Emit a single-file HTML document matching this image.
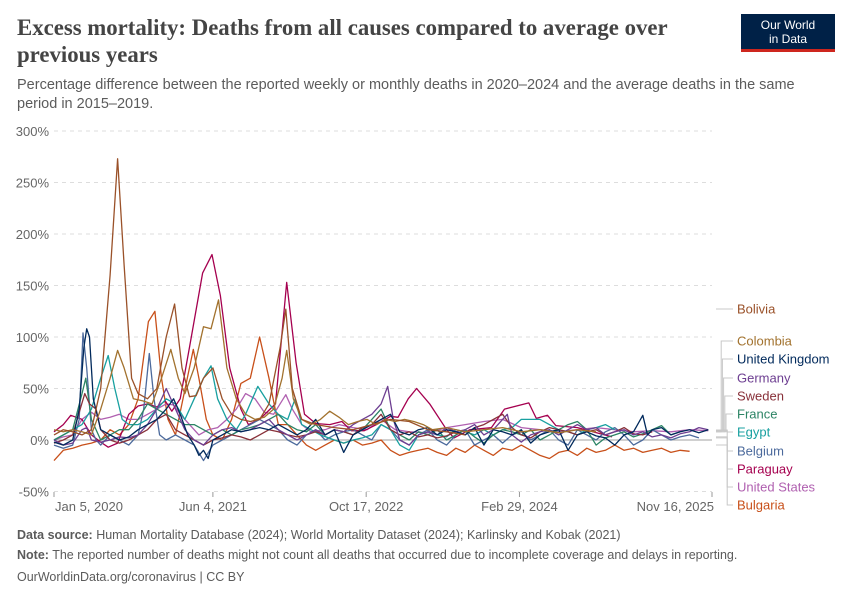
<!DOCTYPE html>
<html><head><meta charset="utf-8">
<style>
body{margin:0;background:#fff;font-family:"Liberation Sans",sans-serif;}
#wrap{position:relative;width:850px;height:600px;overflow:hidden;}
.t{position:absolute;white-space:nowrap;}
</style></head><body>
<div id="wrap">
<div class="t" style="left:17px;top:14px;font-family:'Liberation Serif',serif;font-weight:bold;font-size:22.8px;color:#444;line-height:27px;">Excess mortality: Deaths from all causes compared to average over<br>previous years</div>
<div class="t" style="left:17px;top:76px;font-size:14.5px;color:#5b5b5b;line-height:19px;">Percentage difference between the reported weekly or monthly deaths in 2020–2024 and the average deaths in the same<br>period in 2015–2019.</div>
<div style="position:absolute;left:741px;top:14px;width:94px;height:38px;background:#002147;border-bottom:3px solid #ce261e;box-sizing:border-box;color:#fff;font-size:12px;text-align:center;line-height:14px;padding-top:4px;">Our World<br>in Data</div>
<svg id="chart" width="850" height="600" style="position:absolute;left:0;top:0;"></svg>
<div class="t" style="left:17px;top:528px;font-size:12.5px;color:#5b5b5b;"><b>Data source:</b> Human Mortality Database (2024); World Mortality Dataset (2024); Karlinsky and Kobak (2021)</div>
<div class="t" style="left:17px;top:548px;font-size:12.5px;color:#5b5b5b;"><b>Note:</b> The reported number of deaths might not count all deaths that occurred due to incomplete coverage and delays in reporting.</div>
<div class="t" style="left:17px;top:570px;font-size:12.5px;color:#5b5b5b;">OurWorldinData.org/coronavirus | CC BY</div>
</div>
<script>
const yTicks=[300,250,200,150,100,50,0,-50];
const xTickLabels=["Jan 5, 2020","Jun 4, 2021","Oct 17, 2022","Feb 29, 2024","Nov 16, 2025"];
const xTickMonths=[0,17,33.4,49.8,70.4];
const countries=["Bolivia","Colombia","United Kingdom","Germany","Sweden","France","Egypt","Belgium","Paraguay","United States","Bulgaria"];
const colors=["#9a5129","#a2722e","#00295b","#6d3e91","#883039","#2c8465","#18a0a0","#4c6a9c","#a5004f","#b060b0","#c8501a"];
const bolivia=[[0,5],[1,10],[2,8],[3,5],[4,10],[5,50],[6,160],[6.8,273],[7.5,170],[8.3,60],[9,45],[10,40],[11,50],[12,100],[12.9,132],[13.7,70],[14.5,42],[15.2,43],[16,60],[17,70],[18,40],[19,25],[20,20],[21,18],[22,20],[23,35],[24.2,90],[24.8,127],[25.5,50],[26.5,20],[28,15],[30,12],[32,10],[34,15],[36,20],[38,18],[40,10],[42,8],[44,5]];
const colombia=[[0,10],[1,8],[2,10],[3,8],[4,5],[5,30],[6,60],[6.8,87],[7.5,70],[8.5,40],[9.5,38],[10.5,35],[11.5,60],[12.5,88],[13.3,60],[14,45],[15,70],[16,110],[16.8,108],[17.6,136],[18.5,70],[19.5,40],[20.5,25],[21.5,20],[22.5,22],[23.5,30],[24.4,60],[24.9,87],[25.6,40],[26.5,20],[27.5,15],[28.5,20],[29.5,28],[30.5,22],[31.5,15],[32.5,18],[33.5,20],[34.5,15],[35.5,20],[36.5,18],[37.5,20],[38.5,18],[39.5,15],[40.5,10],[42,12],[44,8],[46,10],[48,12],[50,8],[52,10],[54,7],[56,10],[58,8]];
const uk=[[0,-2],[1,-5],[2,0],[2.7,30],[3.2,90],[3.5,108],[3.8,100],[4.2,40],[4.6,25],[5,10],[6,5],[7,0],[8,3],[9,10],[10,15],[11,20],[12,30],[12.8,40],[13.5,25],[14.3,5],[15,-5],[15.5,-15],[16,-10],[16.5,-18],[17,0],[18,5],[19,10],[20,8],[21,10],[22,12],[23,10],[24,15],[25,10],[26,5],[27,10],[28,20],[29,5],[30,10],[31,-12],[32,5],[33,10],[34,15],[35,20],[36,25],[37,8],[38,5],[39,10],[40,12],[41,5],[42,10],[43,8],[44,5],[45,12],[46,-5],[47,10],[48,8],[49,5],[50,10],[51,-3],[52,5],[53,8],[54,10],[55,-10],[56,5],[57,8],[58,4],[59,2],[60,-5],[61,5],[62,8],[63,24],[63.5,5],[64,10],[65,12],[66,5],[67,8],[68,10],[69,7],[70,10]];
const germany=[[0,0],[1,-5],[2,-3],[3,10],[3.5,12],[4,0],[5,-2],[6,0],[7,3],[8,2],[9,5],[10,15],[11,30],[12,50],[13,30],[14,10],[15,0],[16,-5],[17,5],[18,10],[19,12],[20,8],[21,10],[22,15],[23,20],[24,10],[25,5],[26,0],[27,5],[28,10],[29,5],[30,10],[31,8],[32,15],[33,20],[34,25],[35,35],[35.7,52],[36.3,20],[37,0],[38,-5],[39,5],[40,8],[41,5],[42,12],[43,8],[44,10],[45,15],[46,5],[47,10],[48,20],[48.5,25],[49,5],[50,-2],[51,5],[52,8],[53,10],[54,5],[55,10],[56,15],[57,10],[58,12],[59,5],[60,8],[61,10],[62,5],[63,8],[64,3],[65,5],[66,2],[67,6],[68,8],[69,12],[70,10]];
const sweden=[[0,-3],[1,0],[2,5],[2.8,30],[3.3,45],[3.8,35],[4.5,30],[5,10],[6,0],[7,-3],[8,0],[9,5],[10,10],[11,20],[12,25],[13,10],[14,5],[15,0],[16,-5],[17,0],[18,2],[19,5],[20,3],[21,0],[22,5],[23,10],[24,8],[25,5],[26,3],[27,5],[28,8],[29,5],[30,10],[31,8],[32,5],[33,12],[34,15],[35,25],[36,10],[37,5],[38,8],[39,3],[40,5],[41,2],[42,4],[43,8],[44,5],[45,12],[46,15],[47,20],[48,25],[49,12],[50,5],[51,2],[52,8],[53,12],[54,10],[55,8],[56,5],[57,8],[58,10],[59,5],[60,8],[61,12],[62,6],[63,5],[64,8]];
const france=[[0,0],[1,5],[2,10],[3,45],[3.4,60],[4,20],[5,0],[6,5],[7,10],[8,10],[9,20],[10,35],[11,30],[12,25],[13,20],[14,15],[15,15],[16,10],[17,5],[18,10],[19,5],[20,10],[21,12],[22,15],[23,20],[24,25],[25,15],[26,10],[27,8],[28,15],[29,5],[30,10],[31,8],[32,5],[33,10],[34,20],[35,30],[36,10],[37,5],[38,0],[39,8],[40,5],[41,10],[42,0],[43,5],[44,10],[45,3],[46,-3],[47,5],[48,10],[49,8],[50,5],[51,10],[52,0],[53,5],[54,10],[55,15],[56,18],[57,10],[58,-5],[59,2],[60,5],[61,8],[62,3],[63,6],[64,10],[65,14],[66,5],[67,8]];
const egypt=[[0,0],[1,5],[2,10],[3,15],[4,30],[5,60],[5.8,82],[6.5,50],[7.3,20],[8,15],[9,15],[10,20],[11,30],[12,40],[13,35],[14,20],[15,40],[16,60],[16.8,72],[17.5,40],[18.5,20],[19.5,10],[20.5,25],[21.8,52],[23,35],[24,25],[25,20],[25.8,40],[26.5,15],[27.5,10],[28.5,5],[30,0],[31,-3],[32,0],[33,2],[34,5],[35,15],[36,10],[37,-5],[38,-10],[39,5],[40,8],[41,5],[42,3],[43,10],[44,8],[45,5],[46,10],[47,5],[48,10],[49,12],[50,20],[51,20],[52,20],[53,15],[54,10],[55,8],[56,5],[57,10],[58,12],[59,15],[60,10]];
const belgium=[[0,-5],[1,-8],[2,-5],[2.7,20],[3.1,104],[3.5,70],[4,10],[4.5,0],[5,-5],[6,5],[7,0],[8,-5],[9,5],[9.6,30],[10.2,84],[10.7,40],[11.3,5],[12,0],[13,5],[14,0],[15,-5],[16,-20],[17,-5],[18,0],[19,5],[20,10],[21,15],[22,20],[23,15],[24,10],[25,0],[26,-5],[27,5],[28,10],[29,0],[30,5],[31,8],[32,10],[33,5],[34,0],[35,15],[36,10],[37,0],[38,-5],[39,5],[40,10],[41,0],[42,-5],[43,5],[44,10],[45,-5],[46,0],[47,5],[48,-3],[49,5],[50,8],[51,0],[52,5],[53,10],[54,0],[55,-5],[56,10],[57,5],[58,0],[59,8],[60,12],[61,5],[62,-5],[63,0],[64,10],[65,5],[66,0],[67,3],[68,5],[69,2]];
const paraguay=[[0,8],[1,15],[1.8,24],[3,20],[4,5],[5,-2],[5.8,-7],[6.8,-3],[8,25],[9,33],[10,35],[11,32],[11.9,38],[12.6,28],[13.5,40],[14.5,90],[15.9,162],[16.9,180],[17.8,140],[18.8,70],[20,30],[20.8,15],[22,20],[23.7,35],[24.9,153],[25.9,75],[26.8,25],[28,16],[29.5,15],[30.8,18],[31.8,9],[33.2,9],[34.5,15],[36,23],[36.8,22],[37.9,40],[38.8,50],[40.2,35],[42,10],[42.8,2],[44.5,10],[46.8,12],[48.2,30],[50.8,36],[51.6,21],[52.8,24],[53.7,14],[56,12],[59.7,3]];
const usa=[[0,0],[1,3],[2,5],[3,20],[4,27],[5,20],[6,22],[7,25],[8,20],[9,20],[10,25],[11,30],[12,35],[12.8,34],[13.5,25],[14.5,15],[15.5,5],[16.5,10],[17.5,12],[18.5,20],[19.5,30],[20.5,45],[21.5,40],[22.5,27],[23.5,25],[24.8,44],[25.5,30],[26.5,15],[27.5,8],[29,10],[30.5,15],[32,12],[33.5,10],[35,20],[36.5,10],[38,8],[40,7],[42,12],[44,15],[46,18],[48,20],[50,12],[52,10],[54,8],[56,10],[58,12],[60,10],[62,8],[64,9],[66,8],[68,10],[70,9]];
const bulgaria=[[0,-20],[1,-10],[2,-8],[3,-5],[4,-3],[5,0],[6,10],[7,5],[8,15],[9,40],[10.1,115],[10.8,125],[11.5,60],[12.2,20],[13,5],[13.8,40],[14.9,88],[15.5,60],[16.3,20],[17,5],[18,0],[19,20],[20,55],[21,60],[22,100],[23,60],[24,15],[25,15],[26,5],[27,-5],[28,-10],[29,-5],[30,0],[31,-3],[32,0],[33,-5],[34,-3],[35,0],[36,-10],[37,-15],[38,-12],[39,-10],[40,-8],[41,-12],[42,-15],[43,-8],[44,-12],[45,-5],[46,-10],[47,-15],[48,-8],[49,-10],[50,-5],[51,-10],[52,-15],[53,-18],[54,-12],[55,-10],[56,-15],[57,-8],[58,-12],[59,-10],[60,-5],[61,-10],[62,-8],[63,-12],[64,-10],[65,-8],[66,-12],[67,-10],[68,-11]];
const seriesData=[bolivia,colombia,uk,germany,sweden,france,egypt,belgium,paraguay,usa,bulgaria];
const labelYs=[309,341,359,378,396,414,432,451,469,487,505];

const NS="http://www.w3.org/2000/svg";
const svg=document.getElementById('chart');
const X0=54,X1=712,MMAX=70.4;
const X=m=>X0+m*(X1-X0)/MMAX;
const Y=v=>440-v*1.03;
function mk(tag,attrs){const e=document.createElementNS(NS,tag);for(const k in attrs)e.setAttribute(k,attrs[k]);svg.appendChild(e);return e;}

yTicks.forEach(v=>{
  const l=mk('line',{x1:X0,x2:X1,y1:Y(v),y2:Y(v),stroke:v===0?'#a0a0a0':'#dddddd','stroke-dasharray':v===0?'none':'4,4','stroke-width':1});
  
  
  const t=mk('text',{x:49,y:Y(v)+5,'text-anchor':'end','font-size':13,fill:'#666','font-family':'Liberation Sans, sans-serif'});
  t.textContent=v+'%';
  
  
});
xTickMonths.forEach((m,i)=>{
  const tk=mk('line',{x1:X(m),x2:X(m),y1:492,y2:497,stroke:'#999'});
  
  
  const anchor=i===0?'start':(i===xTickMonths.length-1?'end':'middle');
  const t=mk('text',{x:i===0?X(m)+1:X(m)+(i===xTickMonths.length-1?2:0),y:511,'text-anchor':anchor,'font-size':13,fill:'#666','font-family':'Liberation Sans, sans-serif'});
  t.textContent=xTickLabels[i];
  
  
});
const order=[10,9,8,7,6,5,4,3,2,1,0];
order.forEach(i=>{
  const d=seriesData[i].map((p,j)=>(j?'L':'M')+X(p[0]).toFixed(1)+','+Y(p[1]).toFixed(1)).join('');
  const p=mk('path',{d:d,fill:'none',stroke:colors[i],'stroke-width':1.3,'stroke-linejoin':'round'});
  
  
});
countries.forEach((c,i)=>{
  const data=seriesData[i];const last=data[data.length-1];
  const ey=i===0?309:Y(last[1]);
  const bx=716+Math.min(i,6)*1.2;
  const ln=mk('path',{d:i===0?`M716,309H733`:`M716,${Math.max(430,Math.min(445,ey)).toFixed(1)}H${bx+4}V${labelYs[i]}H733`,fill:'none',stroke:'#c8c8c8','stroke-width':1});
  
  
  const t=mk('text',{x:737,y:labelYs[i]+4.5,'font-size':13,fill:colors[i],'font-family':'Liberation Sans, sans-serif'});
  t.textContent=c;
  
  
});
</script>
</body></html>
